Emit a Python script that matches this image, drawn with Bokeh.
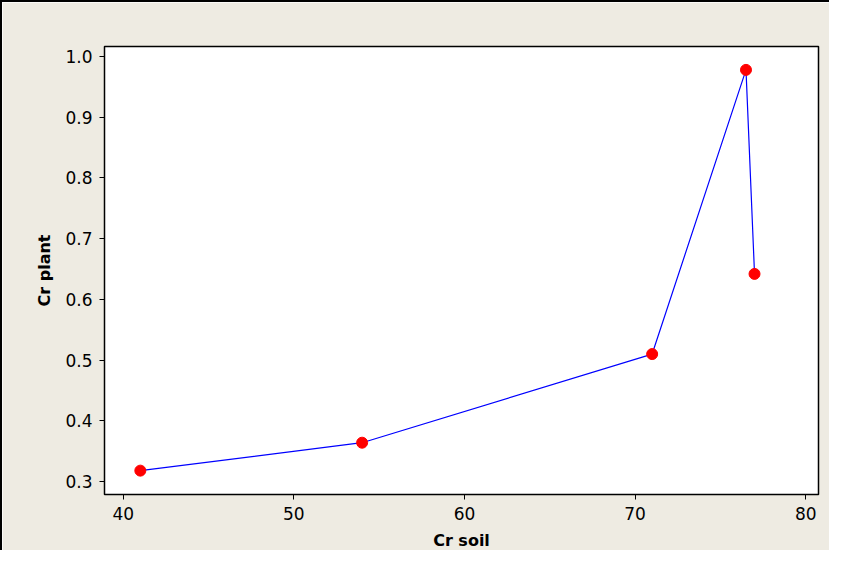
from bokeh.plotting import figure
from bokeh.models import FixedTicker, NumeralTickFormatter, Range1d
from bokeh.embed import file_html
from bokeh.resources import INLINE

cr_soil = [41, 54, 71, 76.5, 77]
cr_plant = [0.318, 0.364, 0.510, 0.978, 0.642]
x_ticks = [40, 50, 60, 70, 80]
y_ticks = [0.3, 0.4, 0.5, 0.6, 0.7, 0.8, 0.9, 1.0]

BG = "#EEEBE2"
FONT = "DejaVu Sans"

p = figure(width=829, height=550, output_backend="svg", toolbar_location=None,
           x_range=Range1d(38.9, 80.75), y_range=Range1d(0.2787, 1.0165),
           min_border_left=102, min_border_top=44, min_border_right=13, min_border_bottom=54)
p.background_fill_color = "white"
p.border_fill_color = BG
p.outline_line_color = "black"
p.outline_line_width = 1.5
p.grid.visible = False
p.styles = {"border-left": "2px solid black", "border-top": "2px solid black"}

p.line(cr_soil, cr_plant, line_color="#0000FF", line_width=1.2)
p.scatter(cr_soil, cr_plant, size=11, fill_color="#FF0000", line_color="#FF0000")

p.xaxis.ticker = FixedTicker(ticks=x_ticks)
p.yaxis.ticker = FixedTicker(ticks=y_ticks)
p.yaxis.formatter = NumeralTickFormatter(format="0.0")
for ax in (p.xaxis, p.yaxis):
    ax.major_tick_in = 0
    ax.major_tick_out = 5
    ax.minor_tick_line_color = None
    ax.axis_line_color = "black"
    ax.major_tick_line_color = "black"
    ax.major_label_text_font = FONT
    ax.major_label_text_font_size = "17px"
    ax.major_label_text_color = "black"
    ax.axis_label_text_font = FONT
    ax.axis_label_text_font_size = "16px"
    ax.axis_label_text_font_style = "bold"
    ax.axis_label_text_color = "black"
    ax.major_label_standoff = 7
p.xaxis.axis_label = "Cr soil"
p.yaxis.axis_label = "Cr plant"
p.xaxis.axis_label_standoff = 8
p.yaxis.axis_label_standoff = 8

open("out.html", "w").write(file_html(p, INLINE))
